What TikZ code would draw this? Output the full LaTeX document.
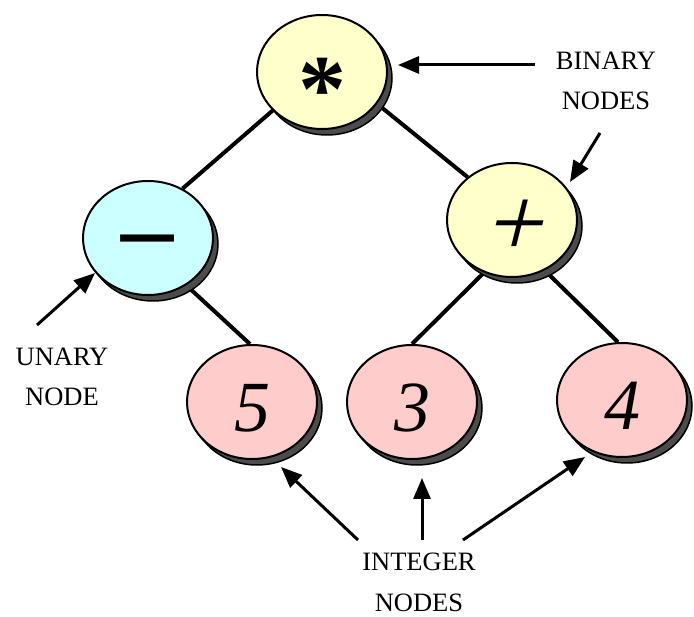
\documentclass[tikz,border=0pt]{standalone}
\usepackage{fontspec}
\setmainfont{Liberation Serif}
\newfontfamily\djv{DejaVu Sans}
\newfontfamily\slplus[FakeSlant=0.25]{Liberation Serif}
\usetikzlibrary{shapes.geometric,arrows.meta,shadows,backgrounds}
\definecolor{ylw}{HTML}{FFFFCC}
\definecolor{cyn}{HTML}{CCFFFF}
\definecolor{pnk}{HTML}{FFCCCC}
% glyph whose baseline sits #1 below the node centre, taking no room
\newcommand{\gdown}[2]{\raisebox{-#1}[0pt][0pt]{#2}}
\tikzset{
  bn/.style={ellipse, draw=black, line width=2pt, minimum width=130pt, minimum height=114pt, inner sep=0pt,
    drop shadow={shadow xshift=5pt, shadow yshift=-6pt, fill=black!70, draw=black, line width=1.5pt, opacity=1}},
  digit/.style={bn, fill=pnk, font=\fontsize{72}{72}\selectfont\itshape},
  edge/.style={line width=4pt},
  arr/.style={line width=3pt, -{Triangle[length=21pt,width=17pt]}},
  lbl/.style={align=center, font=\fontsize{26.5}{40}\selectfont, inner sep=0pt}
}
\begin{document}
\begin{tikzpicture}[x=1pt,y=-1pt]
\useasboundingbox (0,0) rectangle (694,617);
% nodes
\node[bn, fill=ylw, font=\fontsize{96}{96}\selectfont\bfseries] (star) at (322,72) {\gdown{50pt}{*}};
\node[bn, fill=cyn, font=\fontsize{86}{86}\selectfont\djv] (minus) at (148,238) {\gdown{28pt}{−}};
\node[bn, fill=ylw, font=\fontsize{100}{100}\selectfont\slplus] (plus) at (512,220) {\gdown{36.5pt}{+}};
\node[digit] (five) at (252,402) {\gdown{29.5pt}{5}};
\node[digit] (three) at (412,402) {\gdown{29.5pt}{3}};
\node[digit] (four) at (622,400) {\gdown{29.5pt}{4}};
% edges (behind nodes)
\begin{scope}[on background layer]
\draw[edge] (star.218) -- (minus.55);
\draw[edge] (star.-30) -- (plus.136);
\draw[edge] (minus.-51) -- (five.92);
\draw[edge] (plus.-118) -- (three.90);
\draw[edge] (plus.-57) -- (four.94);
\end{scope}
% labels (base = baseline of the last line)
\node[lbl, anchor=base] (binl) at (606,110) {BINARY\\NODES};
\node[lbl, anchor=base] (unl) at (62,406) {UNARY\\NODE};
\node[lbl, anchor=base] (intl) at (419,611) {INTEGER\\NODES};
% arrow tails
\coordinate (b1) at (535,65);
\coordinate (b2) at (600,133);
\coordinate (u1) at (37,325);
\coordinate (i1) at (358,540);
\coordinate (i2) at (422,540);
\coordinate (i3) at (463,540);
% arrows
\draw[arr] (b1) -- ([shift={(76,-7)}]star.center);
\draw[arr] (b2) -- ([shift={(58,-38)}]plus.center);
\draw[arr] (u1) -- ([shift={(-53,35)}]minus.center);
\draw[arr] (i1) -- ([shift={(29,65)}]five.center);
\draw[arr] (i2) -- ([shift={(10,76)}]three.center);
\draw[arr] (i3) -- ([shift={(-37,57)}]four.center);
\end{tikzpicture}
\end{document}
